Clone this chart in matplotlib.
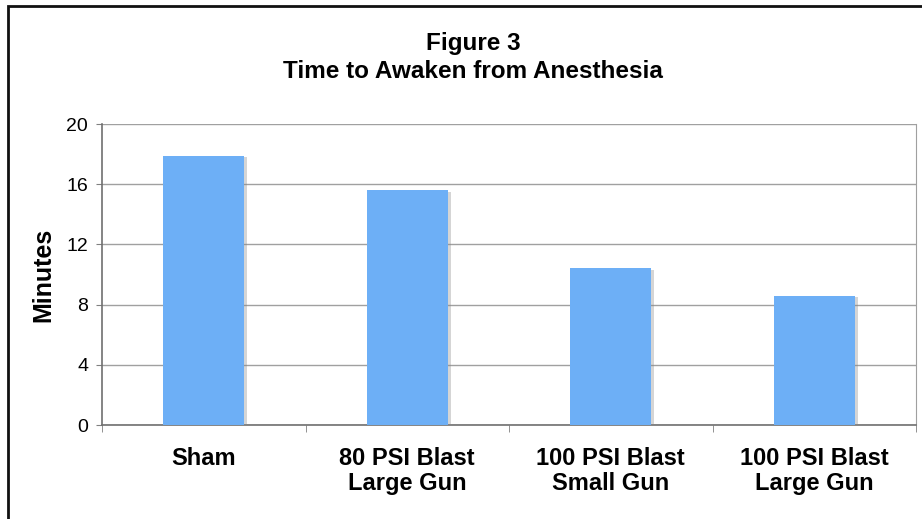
import matplotlib
matplotlib.use("Agg")
import matplotlib.pyplot as plt
import matplotlib.patheffects as pe
from matplotlib.patches import Rectangle
import numpy as np

# ── Data ─────────────────────────────────────────────────────────────────────
groups = ["Sham", "80 PSI Blast\nLarge Gun", "100 PSI Blast\nSmall Gun", "100 PSI Blast\nLarge Gun"]
minutes = [17.9, 15.6, 10.4, 8.6]
y_ticks = [0, 4, 8, 12, 16, 20]

BAR_COLOR = "#6DAFF6"
FONT = ["Liberation Sans", "DejaVu Sans"]

fig = plt.figure(figsize=(9.22, 5.19), dpi=100)
ax = fig.add_axes([102 / 922, 94 / 519, 814 / 922, 301 / 519])

x = np.arange(len(groups))
bars = ax.bar(x, minutes, width=0.4, color=BAR_COLOR, zorder=3)
for b in bars:
    b.set_path_effects([pe.SimplePatchShadow(offset=(2, -1), shadow_rgbFace="#888888", alpha=0.35),
                        pe.Normal()])

ax.set_xlim(-0.5, len(groups) - 0.5)
ax.set_ylim(0, 20)
ax.set_yticks(y_ticks)
ax.set_yticklabels([str(t) for t in y_ticks], fontsize=14, family=FONT)
ax.grid(axis="y", color="#a0a0a0", linewidth=1.0, zorder=0)

# category labels centred under bars, ticks at the boundaries
ax.set_xticks(x)
ax.set_xticklabels(groups, fontsize=17, fontweight="bold", family=FONT, linespacing=1.1)
ax.tick_params(axis="x", length=0, pad=16)
ax.set_xticks(np.arange(len(groups) + 1) - 0.5, minor=True)
ax.tick_params(axis="x", which="minor", length=5, color="#808080", direction="out")
ax.tick_params(axis="y", length=4, color="#808080", pad=6)

ax.spines["top"].set_visible(False)
for s in ["left", "bottom"]:
    ax.spines[s].set_color("#707070")
    ax.spines[s].set_linewidth(1.2)
ax.spines["right"].set_color("#a0a0a0")

ax.set_ylabel("Minutes", fontsize=18, fontweight="bold", family=FONT, labelpad=8)

fig.text(473 / 922, 1 - 50 / 519, "Figure 3", ha="center", va="baseline",
         fontsize=17.5, fontweight="bold", family=FONT)
fig.text(473 / 922, 1 - 78 / 519, "Time to Awaken from Anesthesia", ha="center", va="baseline",
         fontsize=17.5, fontweight="bold", family=FONT)

# outer frame
fig.patches.append(Rectangle((7.5 / 922, -0.05), 1.2, 1 - 6 / 519 + 0.05,
                             transform=fig.transFigure, fill=False,
                             edgecolor="#111111", linewidth=2.0))

fig.savefig("out.png", dpi=100)
